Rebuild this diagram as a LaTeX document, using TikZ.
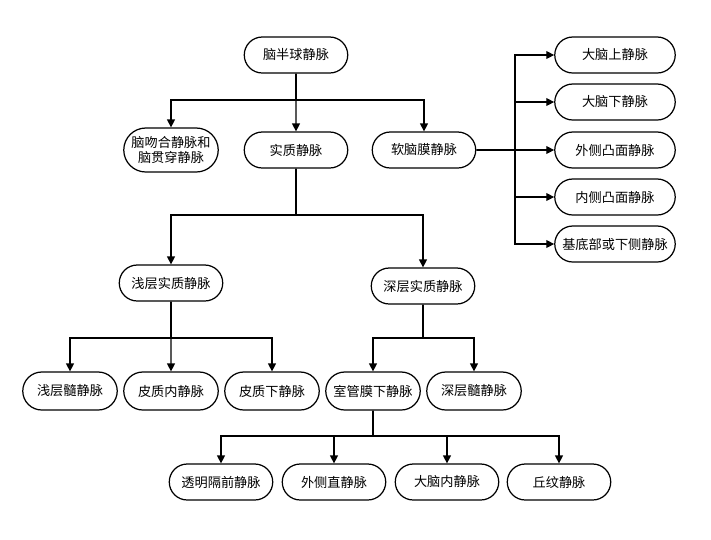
\documentclass[tikz,border=0pt]{standalone}
\usepackage{fontspec}
\newfontfamily\cjk{Noto Sans CJK SC}
\usetikzlibrary{arrows.meta,shapes.misc}

\begin{document}
\begin{tikzpicture}[x=0.02cm, y=-0.02cm, line width=0.6pt,
        vein node/.style={rounded rectangle, draw, line width=0.7pt, font=\cjk\fontsize{7.5}{9}\selectfont, align=center, minimum width=2.14cm, minimum height=0.72cm, inner sep=1pt},
        short node/.style={vein node, minimum width=1.96cm, minimum height=0.76cm},
        long node/.style={vein node, minimum width=2.48cm},
        trunk/.style={line width=1.1pt},
        arr/.style={-{Triangle[length=4.5pt, width=4.5pt]}}]

            \useasboundingbox (0, 0) rectangle (711, 539);

            \node[vein node] (hemi) at (296, 55) {脑半球静脉};
            \node[short node, minimum height=0.88cm] (anast) at (171, 150) {脑吻合静脉和\\脑贯穿静脉};
            \node[vein node] (paren) at (296, 150) {实质静脉};
            \node[vein node] (pial) at (424, 150) {软脑膜静脉};

            \node[long node] (sup) at (615, 55) {大脑上静脉};
            \node[long node] (inf) at (615, 102) {大脑下静脉};
            \node[long node] (latc) at (615, 150) {外侧凸面静脉};
            \node[long node] (medc) at (615, 197) {内侧凸面静脉};
            \node[long node] (basal) at (615, 244) {基底部或下侧静脉};

            \node[vein node] (spar) at (171, 283) {浅层实质静脉};
            \node[vein node] (dpar) at (423, 286) {深层实质静脉};

            \node[short node] (smed) at (70, 391) {浅层髓静脉};
            \node[short node] (intra) at (171, 391) {皮质内静脉};
            \node[short node] (subc) at (272, 391) {皮质下静脉};
            \node[short node] (subep) at (373, 391) {室管膜下静脉};
            \node[short node] (dmed) at (474, 391) {深层髓静脉};

            \node[vein node] (septal) at (221, 482) {透明隔前静脉};
            \node[vein node] (lat) at (334, 482) {外侧直静脉};
            \node[vein node] (icv) at (447, 482) {大脑内静脉};
            \node[vein node] (thal) at (559, 482) {丘纹静脉};

            \coordinate (j1) at (296, 100);
            \coordinate (j2) at (515, 150);
            \coordinate (j3) at (296, 215);
            \coordinate (j4) at (171, 338);
            \coordinate (j5) at (423, 338);
            \coordinate (j6) at (373, 436);

            % Hemisphere to its three groups
            \draw[trunk] (hemi) -- (j1);
            \draw[arr] (j1) -| (anast);
            \draw[arr] (j1) -- (paren);
            \draw[arr] (j1) -| (pial);

            % Pial veins to the right column
            \draw[trunk] (pial) -- (j2);
            \draw[arr] (j2) |- (sup);
            \draw[arr] (j2) |- (inf);
            \draw[arr] (j2) -- (latc);
            \draw[arr] (j2) |- (medc);
            \draw[arr] (j2) |- (basal);

            % Parenchymal veins
            \draw[trunk] (paren) -- (j3);
            \draw[arr] (j3) -| (spar);
            \draw[arr] (j3) -| (dpar);

            \draw[trunk] (spar) -- (j4);
            \draw[arr] (j4) -| (smed);
            \draw[arr] (j4) -- (intra);
            \draw[arr] (j4) -| (subc);

            \draw[trunk] (dpar) -- (j5);
            \draw[arr] (j5) -| (subep);
            \draw[arr] (j5) -| (dmed);

            % Subependymal veins
            \draw[trunk] (subep) -- (j6);
            \draw[arr] (j6) -| (septal);
            \draw[arr] (j6) -| (lat);
            \draw[arr] (j6) -| (icv);
            \draw[arr] (j6) -| (thal);

    \end{tikzpicture}
\end{document}
